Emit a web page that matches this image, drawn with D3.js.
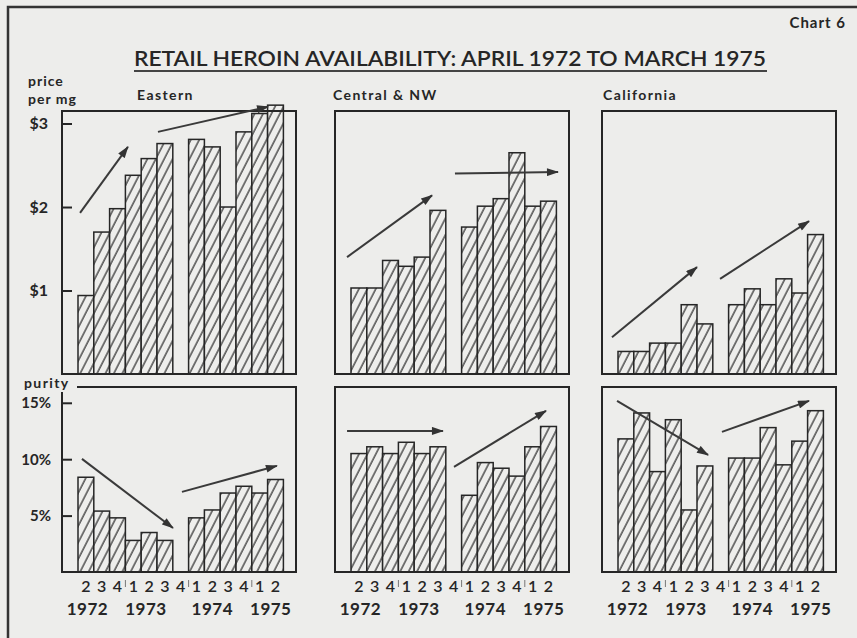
<!DOCTYPE html>
<html>
<head>
<meta charset="utf-8">
<script src="https://cdn.jsdelivr.net/npm/d3@7"></script>
<style>
  body { margin: 0; background: #ededeb; }
  svg { display: block; }
</style>
</head>
<body>
<svg id="chart"></svg>
<script>
// Quarter labels along the bottom (1972 Q2 .. 1975 Q2), one slot each
const quarters = ["2", "3", "4", "1", "2", "3", "4", "1", "2", "3", "4", "1", "2"];
const years = ["1972", "1973", "1974", "1975"];
const yearPos = [0.6, 4.3, 8.5, 12.2];      // in quarter slots
const yearBreaks = [3, 7, 11];              // slot boundaries Q4|Q1
const regions = ["Eastern", "Central & NW", "California"];

// Price per mg ($), null = no data for 1973 Q4
const priceEastern = [0.94, 1.70, 1.98, 2.38, 2.58, 2.76, null, 2.81, 2.72, 2.00, 2.90, 3.12, 3.22];
const priceCentral = [1.03, 1.03, 1.36, 1.29, 1.40, 1.96, null, 1.76, 2.01, 2.10, 2.65, 2.01, 2.07];
const priceCalifornia = [0.27, 0.27, 0.37, 0.37, 0.83, 0.60, null, 0.83, 1.02, 0.83, 1.14, 0.97, 1.67];

// Purity (%)
const purityEastern = [8.4, 5.4, 4.8, 2.8, 3.5, 2.8, null, 4.8, 5.5, 7.0, 7.6, 7.0, 8.2];
const purityCentral = [10.5, 11.1, 10.5, 11.5, 10.5, 11.1, null, 6.8, 9.7, 9.2, 8.5, 11.1, 12.9];
const purityCalifornia = [11.8, 14.1, 8.9, 13.5, 5.5, 9.4, null, 10.1, 10.1, 12.8, 9.5, 11.6, 14.3];

// Trend arrows: [slotStart, valueStart, slotEnd, valueEnd]
const priceArrows = [
  [[0.13, 1.93, 3.16, 2.72], [5.06, 2.90, 12.03, 3.20]],
  [[-0.25, 1.40, 5.13, 2.14], [6.58, 2.40, 13.1, 2.42]],
  [[-0.38, 0.44, 5.0, 1.28], [6.46, 1.14, 12.09, 1.83]]
];
const purityArrows = [
  [[0.25, 10.03, 6.01, 3.90], [6.58, 7.10, 12.59, 9.41]],
  [[-0.25, 12.51, 5.82, 12.51], [6.52, 9.32, 12.34, 14.29]],
  [[-0.06, 15.17, 5.70, 10.38], [6.58, 12.42, 12.09, 15.17]]
];

const priceSeries = [priceEastern, priceCentral, priceCalifornia];
const puritySeries = [purityEastern, purityCentral, purityCalifornia];

const W = 857, H = 638;
const ink = "#262626";
const font = "Lato, 'Noto Sans', sans-serif";

const svg = d3.select("#chart").attr("width", W).attr("height", H);

svg.append("rect").attr("width", W).attr("height", H).attr("fill", "#ededeb");

const defs = svg.append("defs");
const pat = defs.append("pattern")
  .attr("id", "hatch")
  .attr("patternUnits", "userSpaceOnUse")
  .attr("width", 7.5).attr("height", 20)
  .attr("patternTransform", "rotate(27)");
pat.append("rect").attr("width", 7.5).attr("height", 20).attr("fill", "#eeeeec");
pat.append("line").attr("x1", 1).attr("x2", 1).attr("y1", 0).attr("y2", 20)
  .attr("stroke", "#2e2e2e").attr("stroke-width", 1.25);

defs.append("marker")
  .attr("id", "head")
  .attr("viewBox", "0 0 12 8")
  .attr("refX", 11).attr("refY", 4)
  .attr("markerUnits", "userSpaceOnUse")
  .attr("markerWidth", 13).attr("markerHeight", 8)
  .attr("orient", "auto")
  .append("path").attr("d", "M0,0 L12,4 L0,8 Z").attr("fill", "#333");

// outer frame of the page
svg.append("path")
  .attr("d", `M8,${H} V7 H${W}`)
  .attr("fill", "none").attr("stroke", "#333").attr("stroke-width", 2.5);

// titles
svg.append("text")
  .attr("x", 846).attr("y", 28)
  .attr("text-anchor", "end")
  .attr("letter-spacing", 1)
  .style("font", `bold 15px ${font}`).attr("fill", ink)
  .text("Chart 6");

svg.append("text")
  .attr("x", 134).attr("y", 66)
  .attr("textLength", 632).attr("lengthAdjust", "spacingAndGlyphs")
  .style("font", `600 21px ${font}`).attr("fill", ink)
  .text("RETAIL HEROIN AVAILABILITY: APRIL 1972 TO MARCH 1975");
svg.append("line")
  .attr("x1", 134).attr("x2", 767).attr("y1", 71).attr("y2", 71)
  .attr("stroke", "#444").attr("stroke-width", 2);

// y-axis labels
const labelFont = `bold 14px ${font}`;
svg.append("text").attr("x", 28).attr("y", 86).attr("letter-spacing", 1)
  .style("font", labelFont).attr("fill", ink).text("price");
svg.append("text").attr("x", 28).attr("y", 104).attr("letter-spacing", 1)
  .style("font", labelFont).attr("fill", ink).text("per mg");
svg.append("text").attr("x", 24).attr("y", 388)
  .attr("letter-spacing", 1.4)
  .style("font", labelFont).attr("fill", ink).text("purity");

const panelLeft = [62, 335, 602];
const panelWidth = 234;
const slotW = 15.8;
const barOffset = 16;

const yPrice = d3.scaleLinear().domain([0, 3.15]).range([374, 111]);
const yPurity = d3.scaleLinear().domain([0, 16.4]).range([572, 387]);

function drawPanel(p, values, yScale, arrows, isPurity) {
  const left = panelLeft[p];
  const right = left + panelWidth;
  const [bottom, top] = yScale.range();
  const x = d3.scaleBand()
    .domain(d3.range(quarters.length))
    .range([left + barOffset, left + barOffset + slotW * quarters.length])
    .padding(0);
  const xs = d3.scaleLinear()
    .domain([0, quarters.length])
    .range([left + barOffset, left + barOffset + slotW * quarters.length]);

  const g = svg.append("g");

  // bars
  g.selectAll("rect.bar")
    .data(values.map((v, i) => ({ v, i })).filter(d => d.v !== null))
    .enter().append("rect")
    .attr("class", "bar")
    .attr("x", d => x(d.i))
    .attr("width", x.bandwidth())
    .attr("y", d => yScale(d.v))
    .attr("height", d => yScale(0) - yScale(d.v))
    .attr("fill", "url(#hatch)")
    .attr("stroke", ink).attr("stroke-width", 1.5);

  // frame
  let d;
  if (isPurity && p === 0) {
    d = `M77,${top} H${right} V${bottom} H${left} V${top + 5}`;
  } else {
    d = `M${left},${top} H${right} V${bottom} H${left} Z`;
  }
  g.append("path").attr("d", d)
    .attr("fill", "none").attr("stroke", ink).attr("stroke-width", 2);

  // trend arrows
  g.selectAll("line.arrow")
    .data(arrows)
    .enter().append("line")
    .attr("class", "arrow")
    .attr("x1", a => xs(a[0])).attr("y1", a => yScale(a[1]))
    .attr("x2", a => xs(a[2])).attr("y2", a => yScale(a[3]))
    .attr("stroke", "#3a3a3a").attr("stroke-width", 2)
    .attr("marker-end", "url(#head)");

  // y axis only on the left-hand panels
  if (p === 0) {
    const axis = d3.axisLeft(yScale)
      .tickValues(isPurity ? [5, 10, 15] : [1, 2, 3])
      .tickFormat(v => isPurity ? v + "%" : "$" + v)
      .tickSize(-10)
      .tickPadding(isPurity ? 11 : 14);
    const ag = g.append("g").attr("transform", `translate(${left},0)`).call(axis);
    ag.select(".domain").remove();
    ag.selectAll(".tick line").attr("stroke", ink).attr("stroke-width", 2);
    ag.selectAll(".tick text")
      .style("font", `bold ${isPurity ? 15 : 16}px ${font}`).attr("fill", ink);
  }

  if (!isPurity) {
    g.append("text")
      .attr("x", left + [75, -2, 1][p])
      .attr("y", 100)
      .style("font", labelFont).attr("letter-spacing", 1.4).attr("fill", ink)
      .text(regions[p]);
  } else {
    // quarter labels
    const xAxis = d3.axisBottom(x)
      .tickFormat(i => quarters[i])
      .tickSize(0)
      .tickPadding(6);
    const xg = g.append("g").attr("transform", `translate(0,${bottom + 3})`).call(xAxis);
    xg.select(".domain").remove();
    xg.selectAll(".tick text").style("font", `600 16px ${font}`).attr("fill", ink);

    // small year boundary marks
    g.selectAll("line.ybreak")
      .data(yearBreaks)
      .enter().append("line")
      .attr("class", "ybreak")
      .attr("x1", b => xs(b)).attr("x2", b => xs(b))
      .attr("y1", bottom + 8).attr("y2", bottom + 15)
      .attr("stroke", "#777").attr("stroke-width", 1);

    g.selectAll("text.year")
      .data(years)
      .enter().append("text")
      .attr("class", "year")
      .attr("x", (yr, i) => xs(yearPos[i]))
      .attr("y", 615)
      .attr("text-anchor", "middle")
      .attr("letter-spacing", 0.5)
      .style("font", `bold 17px ${font}`).attr("fill", ink)
      .text(yr => yr);
  }
}

regions.forEach((r, p) => {
  drawPanel(p, priceSeries[p], yPrice, priceArrows[p], false);
  drawPanel(p, puritySeries[p], yPurity, purityArrows[p], true);
});
</script>
</body>
</html>
